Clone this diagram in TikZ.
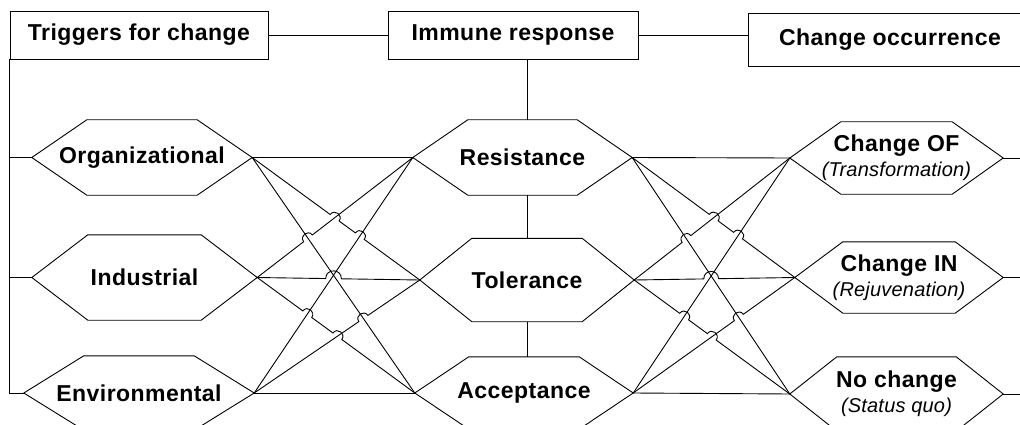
\documentclass[tikz,border=0pt]{standalone}
\usepackage{fontspec}
\setmainfont{Liberation Sans}
\usetikzlibrary{calc,intersections}

\newcommand\titlefont{\fontsize{23}{25}\selectfont\bfseries\addfontfeatures{LetterSpace=2}}
\newcommand\subfont{\fontsize{20}{25}\selectfont\mdseries\itshape\addfontfeatures{LetterSpace=1}}
\newcommand\hopr{5.5pt}

\tikzset{
  outline/.style={draw=black, line width=0.9pt},
  link/.style={draw=black, line width=0.9pt},
  boxnode/.style={draw=black, line width=0.9pt, inner sep=0pt, font=\titlefont},
  hexnode/.style={inner sep=0pt, font=\titlefont, align=center},
  jumparc/.style={bend left=90, looseness=1.7},
}

% stretched hexagon around a named node: #1 node, #2 horizontal inset of the slanted sides
\newcommand\hexoutline[2]{%
  \draw[outline] (#1.west) -- ([xshift=#2]#1.north west) -- ([xshift=-#2]#1.north east)
    -- (#1.east) -- ([xshift=-#2]#1.south east) -- ([xshift=#2]#1.south west) -- cycle;}

% full mesh between two columns of three hexagons, with line jumps at crossings
% #1-#3 left column, #4-#6 right column, #7 name prefix
\newcommand\mesh[7]{%
  \path[name path=#7A] (#1.east) -- (#5.west);
  \path[name path=#7B] (#1.east) -- (#6.west);
  \path[name path=#7C] (#2.east) -- (#4.west);
  \path[name path=#7D] (#2.east) -- (#5.west);
  \path[name path=#7E] (#2.east) -- (#6.west);
  \path[name path=#7F] (#3.east) -- (#4.west);
  \path[name path=#7G] (#3.east) -- (#5.west);
  \path[name intersections={of=#7A and #7C, by=#7ac}];
  \path[name intersections={of=#7A and #7F, by=#7af}];
  \path[name intersections={of=#7B and #7C, by=#7bc}];
  \path[name intersections={of=#7D and #7F, by=#7df}];
  \path[name intersections={of=#7D and #7B, by=#7db}];
  \path[name intersections={of=#7E and #7F, by=#7ef}];
  \path[name intersections={of=#7E and #7G, by=#7eg}];
  \path[name intersections={of=#7B and #7G, by=#7bg}];
  % straight links
  \draw[link] (#1.east) -- (#4.west);
  \draw[link] (#3.east) -- (#6.west);
  \draw[link] (#1.east) -- (#6.west);
  \draw[link] (#3.east) -- (#4.west);
  % links that jump over others
  \draw[link] (#1.east) -- ($(#7ac)!\hopr!(#1.east)$) to[jumparc] ($(#7ac)!\hopr!(#5.west)$)
    -- ($(#7af)!\hopr!(#1.east)$) to[jumparc] ($(#7af)!\hopr!(#5.west)$) -- (#5.west);
  \draw[link] (#2.east) -- ($(#7bc)!\hopr!(#2.east)$) to[jumparc] ($(#7bc)!\hopr!(#4.west)$) -- (#4.west);
  \draw[link] (#2.east) -- ($(#7df)!\hopr!(#2.east)$) to[jumparc] ($(#7db)!\hopr!(#5.west)$) -- (#5.west);
  \draw[link] (#2.east) -- ($(#7ef)!\hopr!(#2.east)$) to[jumparc] ($(#7ef)!\hopr!(#6.west)$)
    -- ($(#7eg)!\hopr!(#2.east)$) to[jumparc] ($(#7eg)!\hopr!(#6.west)$) -- (#6.west);
  \draw[link] (#3.east) -- ($(#7bg)!\hopr!(#3.east)$) to[jumparc] ($(#7bg)!\hopr!(#5.west)$) -- (#5.west);
}

\begin{document}
\begin{tikzpicture}[x=1pt, y=-1pt]
\useasboundingbox (0,0) rectangle (1020,425);
\clip (0,0) rectangle (1020,425);
\fill[white] (0,0) rectangle (1020,425);

% header boxes
\node[boxnode, minimum width=258pt, minimum height=48pt] (trig) at (139,35) {Triggers for change};
\node[boxnode, minimum width=250pt, minimum height=48pt] (imm) at (513,35) {Immune response};
\node[boxnode, minimum width=284pt, minimum height=53pt] (occ) at (890,39.5) {Change occurrence};

% triggers
\node[hexnode, minimum width=220pt, minimum height=75pt] (org) at (142,157.5) {Organizational};
\node[hexnode, minimum width=225pt, minimum height=85pt] (ind) at (144.5,277.5) {Industrial};
\node[hexnode, minimum width=230pt, minimum height=74pt] (env) at (139,393) {Environmental};
% responses
\node[hexnode, minimum width=219pt, minimum height=75pt] (res) at (522.5,157.5) {Resistance};
\node[hexnode, minimum width=214pt, minimum height=83pt] (tol) at (527,280) {Tolerance};
\node[hexnode, minimum width=218pt, minimum height=72pt] (acc) at (524,393) {Acceptance};
% outcomes
\node[hexnode, minimum width=213pt, minimum height=72pt] (cof) at (896.5,158) {Change OF\\{\subfont (Transformation)}};
\node[hexnode, minimum width=208pt, minimum height=71pt] (cin) at (899,277.5) {Change IN\\{\subfont (Rejuvenation)}};
\node[hexnode, minimum width=213pt, minimum height=74pt] (noc) at (896.5,394) {No change\\{\subfont (Status quo)}};

\hexoutline{org}{55pt}
\hexoutline{ind}{56pt}
\hexoutline{env}{60pt}
\hexoutline{res}{55pt}
\hexoutline{tol}{52pt}
\hexoutline{acc}{54pt}
\hexoutline{cof}{51pt}
\hexoutline{cin}{48pt}
\hexoutline{noc}{47pt}

% header links
\draw[link] (trig.east) -- (imm.west);
\draw[link] (imm.east) -- (imm.east -| occ.west);
\draw[link] (imm.south -| tol.center) -- (res.north -| tol.center);
\draw[link] (res.south -| tol.center) -- (tol.north);
\draw[link] (tol.south) -- (acc.north -| tol.center);

% bus on the left
\draw[link] (trig.south west) -- (trig.south west |- env.west) -- (env.west);
\draw[link] (trig.south west |- org.west) -- (org.west);
\draw[link] (trig.south west |- ind.west) -- (ind.west);

% stubs on the right
\coordinate (e1) at (1024,158);
\coordinate (e2) at (1024,277.5);
\coordinate (e3) at (1024,394);
\draw[link] (cof.east) -- (e1);
\draw[link] (cin.east) -- (e2);
\draw[link] (noc.east) -- (e3);

% meshes
\mesh{org}{ind}{env}{res}{tol}{acc}{l}
\mesh{res}{tol}{acc}{cof}{cin}{noc}{r}
\end{tikzpicture}
\end{document}
